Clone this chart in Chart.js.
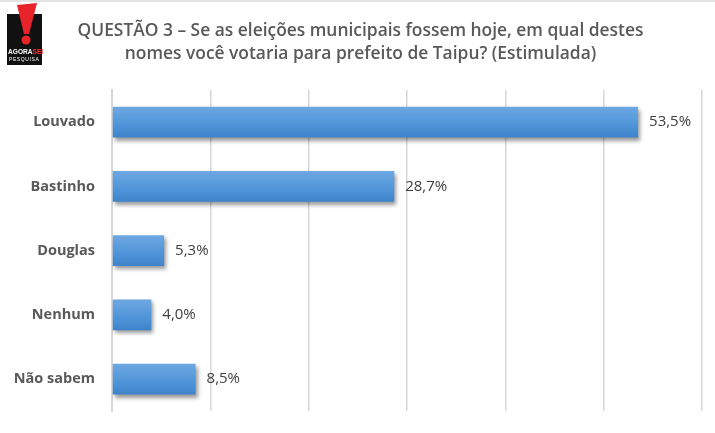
<!DOCTYPE html>
<html>
<head>
<meta charset="utf-8">
<script src="https://cdn.jsdelivr.net/npm/chart.js@4.4.1/dist/chart.umd.min.js"></script>
<style>
    html, body { margin: 0; padding: 0; background: #fff; overflow: hidden; }
    #wrap { position: relative; width: 715px; height: 433px; border-top: 2px solid #e3e3e3; box-sizing: border-box; overflow: hidden; }
    #logo { position: absolute; left: 7px; top: 1px; width: 36px; height: 62px; }
    #title {
        position: absolute; left: 0; top: 16px; width: 721px;
        text-align: center; color: #595959;
        font: 600 17.4px/23px 'Open Sans', 'Liberation Sans', sans-serif;
    }
</style>
</head>
<body>
<div id="wrap">
    <canvas id="chart" width="715" height="435"></canvas>
    <div id="title"></div>
    <svg id="logo" viewBox="0 0 36 62">
        <rect x="0" y="11" width="35" height="51" fill="#111"/>
        <polygon points="10,2 30,0 22,31 17,31" fill="#e8232a"/>
        <circle cx="19" cy="37" r="4.5" fill="#e8232a"/>
        <text x="1" y="51" font-family="Liberation Sans" font-weight="bold" font-size="6.6" fill="#fff">AGORA<tspan fill="#ff2a30">SEI</tspan></text>
        <text x="2" y="58" font-family="Liberation Sans" font-size="5" fill="#fff" letter-spacing="0.6">PESQUISA</text>
    </svg>
</div>
<script>
const categories = ["Louvado", "Bastinho", "Douglas", "Nenhum", "Não sabem"];
const values = [53.5, 28.7, 5.3, 4.0, 8.5];
const valueLabels = ["53,5%", "28,7%", "5,3%", "4,0%", "8,5%"];
const titleLines = [
    "QUESTÃO 3 – Se as eleições municipais fossem hoje, em qual destes",
    "nomes você votaria para prefeito de Taipu? (Estimulada)"
];

const FONT = "'Open Sans', 'Liberation Sans', sans-serif";

// title sits a little right of the chart centre, so it is set as text above the canvas
const titleEl = document.getElementById("title");
titleLines.forEach(line => {
    const d = document.createElement("div");
    d.textContent = line;
    titleEl.appendChild(d);
});

// gradient per bar, based on its position on the y scale
function barGradient(context) {
    const chart = context.chart;
    const y = chart.scales.y;
    if (!chart.chartArea || !y) return "#5498db";
    const center = y.getPixelForValue(context.dataIndex);
    const half = 16;
    const g = chart.ctx.createLinearGradient(0, center - half, 0, center + half);
    g.addColorStop(0, "#6ea8e2");
    g.addColorStop(0.5, "#5498db");
    g.addColorStop(1, "#3d83cb");
    return g;
}

// soft drop shadow under the bars
const barShadow = {
    id: "barShadow",
    beforeDatasetsDraw(chart) {
        const ctx = chart.ctx;
        ctx.save();
        ctx.shadowColor = "rgba(0,0,0,0.4)";
        ctx.shadowBlur = 4;
        ctx.shadowOffsetX = 2;
        ctx.shadowOffsetY = 3;
    },
    afterDatasetsDraw(chart) {
        chart.ctx.restore();
    }
};

// value text at the end of each bar
const valueText = {
    id: "valueText",
    afterDraw(chart) {
        const ctx = chart.ctx;
        const meta = chart.getDatasetMeta(0);
        ctx.save();
        ctx.font = "15px " + FONT;
        ctx.fillStyle = "#404040";
        ctx.textBaseline = "middle";
        ctx.textAlign = "left";
        meta.data.forEach((bar, i) => {
            ctx.fillText(valueLabels[i], bar.x + 11, bar.y);
        });
        ctx.restore();
    }
};

new Chart(document.getElementById("chart").getContext("2d"), {
    type: "bar",
    data: {
        labels: categories,
        datasets: [{
            data: values,
            backgroundColor: barGradient,
            borderWidth: 0,
            barPercentage: 0.6,
            categoryPercentage: 0.8
        }]
    },
    options: {
        indexAxis: "y",
        responsive: false,
        animation: false,
        layout: { padding: { left: 0, right: 13, top: 88, bottom: 5 } },
        plugins: {
            legend: { display: false },
            tooltip: { enabled: false },
            title: { display: false }
        },
        scales: {
            x: {
                min: 0,
                max: 60,
                ticks: { display: false, stepSize: 10 },
                grid: { color: "#d6d6d6", lineWidth: 1.5, drawTicks: false },
                border: { display: false }
            },
            y: {
                grid: { display: false, drawTicks: false },
                border: { color: "#d6d6d6", width: 2 },
                ticks: {
                    color: "#595959",
                    padding: 17,
                    font: { family: FONT, size: 14.5, weight: "bold" }
                },
                afterFit(scale) { scale.width = 112; }
            }
        }
    },
    plugins: [barShadow, valueText]
});
</script>
</body>
</html>
